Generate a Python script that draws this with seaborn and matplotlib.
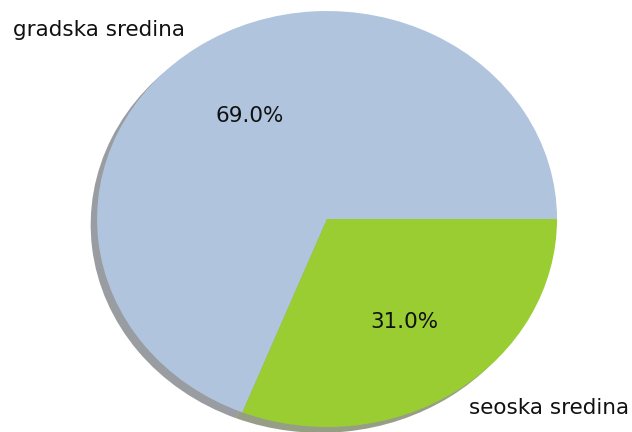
import matplotlib.pyplot as plt
import seaborn as sns

labels = ['gradska sredina', 'seoska sredina']
shares = [69.0, 31.0]
colors = ['lightsteelblue', 'yellowgreen']

sns.set_style("white")
plt.rcParams['font.family'] = ['DejaVu Sans']

fig = plt.figure(figsize=(6.32, 4.32), dpi=100)
ax = fig.add_axes([0, 0, 1, 1])
ax.pie(shares, labels=labels, colors=colors, autopct='%1.1f%%',
       shadow=True, startangle=0,
       wedgeprops={'linewidth': 0},
       textprops={'fontsize': 15.5, 'color': '#111111'})
ax.set_aspect('auto')
ax.set_xlim(-1.422, 1.326)
ax.set_ylim(-1.024, 1.053)
ax.axis('off')

fig.savefig("out.png", dpi=100)
